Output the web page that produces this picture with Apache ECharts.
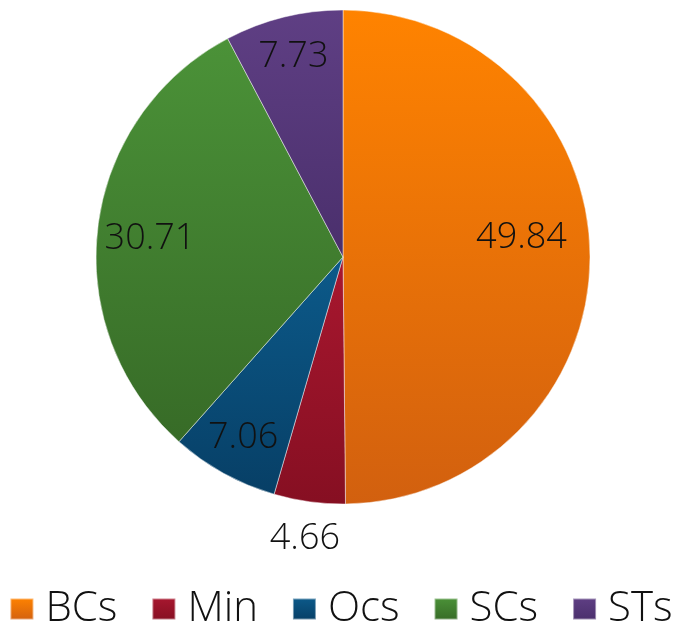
<!DOCTYPE html>
<html lang="en">
<head>
    <meta charset="UTF-8">
    <title>Pie</title>
    <style>
        html, body, #chart {
            width: 100%;
            height: 100%;
            margin: 0;
            padding: 0;
            background: #fff;
        }
    </style>
    <script src="https://cdn.jsdelivr.net/npm/echarts@6/dist/echarts.min.js"></script>
</head>
<body>
    <div id="chart"></div>
    <script>
        var categories = ['BCs', 'Min', 'Ocs', 'SCs', 'STs'];
        var values = [49.84, 4.66, 7.06, 30.71, 7.73];

        // top / bottom colour of each slice gradient
        var topColors = ['#ff8300', '#a8172f', '#0c5a8a', '#4b9238', '#5f3f84'];
        var bottomColors = ['#d2600f', '#860f22', '#073f66', '#376b27', '#4a2f6c'];

        var font = '"Open Sans", "Liberation Sans", sans-serif';

        function grad(i) {
            return new echarts.graphic.LinearGradient(0, 0, 0, 1, [
                { offset: 0, color: topColors[i] },
                { offset: 1, color: bottomColors[i] }
            ]);
        }

        var pieData = categories.map(function (name, i) {
            return { name: name, value: values[i], itemStyle: { color: grad(i) } };
        });

        // label tweaks per slice (BCs sits closer to centre, Min is below the pie)
        var labelOffsets = { BCs: [-28, -18], Min: [-10, 77], SCs: [12, 7] };

        var labelData = categories.map(function (name, i) {
            var d = { name: name, value: values[i] };
            if (labelOffsets[name]) d.label = { offset: labelOffsets[name] };
            return d;
        });

        var chart = echarts.init(document.getElementById('chart'));
        chart.setOption({
            animation: false,
            legend: {
                top: 583,
                left: 'center',
                icon: 'rect',
                itemWidth: 23,
                itemHeight: 21,
                itemGap: 34,
                textStyle: {
                    fontFamily: font, fontSize: 42, fontWeight: 300, color: '#111',
                    padding: [0, 0, 0, 7]
                },
                data: categories
            },
            series: [{
                type: 'pie',
                center: [343, 257],
                radius: [0, 247],
                startAngle: 90,
                clockwise: true,
                silent: true,
                label: { show: false },
                labelLine: { show: false },
                itemStyle: { borderColor: 'rgba(255,255,255,0.45)', borderWidth: 1 },
                data: pieData
            }, {
                type: 'pie',
                center: [343, 257],
                radius: [160, 247],
                startAngle: 90,
                clockwise: true,
                silent: true,
                itemStyle: { color: 'rgba(0,0,0,0)' },
                labelLine: { show: false },
                label: {
                    show: true,
                    position: 'inside',
                    formatter: function (p) { return p.value.toFixed(2); },
                    fontFamily: font,
                    fontSize: 36,
                    fontWeight: 300,
                    color: '#111'
                },
                data: labelData
            }]
        });
    </script>
</body>
</html>
